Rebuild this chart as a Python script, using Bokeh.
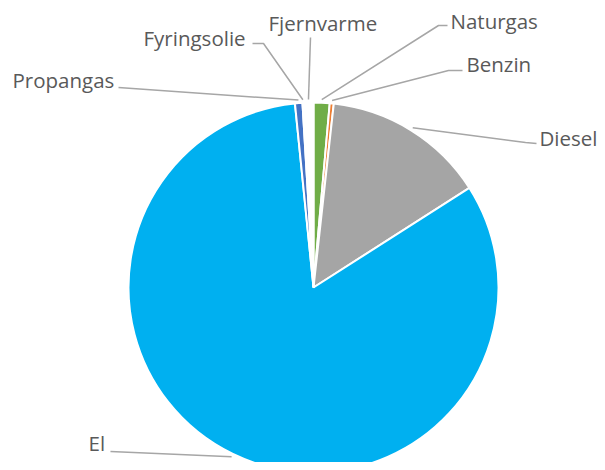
import math
from bokeh.plotting import figure
from bokeh.models import Range1d
from bokeh.embed import file_html
from bokeh.resources import INLINE
from bokeh.core.properties import value

# ---- data (share in %, order clockwise from 12 o'clock) ----
categories = ["Naturgas", "Benzin", "Diesel", "El", "Propangas", "Fyringsolie", "Fjernvarme"]
shares = [1.4, 0.35, 14.2, 82.45, 0.65, 0.1, 0.85]

# ---- style ----
colors = ["#70AD47", "#ED7D31", "#A5A5A5", "#00B0F0", "#4472C4", "#FFFFFF", "#FFFFFF"]
W, H = 597, 462
CX, CY, R = 313, -287, 185

# label layout: (text left x, text centre y, leader polyline from label side)
label_pos = {
    "Naturgas":    (450, 20,  [(447, 25), (438, 25)]),
    "Benzin":      (466, 63,  [(462, 70), (448, 70)]),
    "Diesel":      (539, 137, [(536, 143), (525, 142)]),
    "El":          (88, 442,  [(110, 451)]),
    "Propangas":   (12, 79,   [(118, 87)]),
    "Fyringsolie": (143, 37,  [(252, 43), (263, 43)]),
    "Fjernvarme":  (268, 22,  [(310, 37)]),
}

total = sum(shares)
starts, ends, mids = [], [], []
acc = 0.0
for s in shares:
    t0 = acc / total * 2 * math.pi
    acc += s
    t1 = acc / total * 2 * math.pi
    starts.append(math.pi / 2 - t1)
    ends.append(math.pi / 2 - t0)
    mids.append((t0 + t1) / 2)

p = figure(width=W, height=H, output_backend="svg", toolbar_location=None,
           x_range=Range1d(0, W), y_range=Range1d(-H, 0),
           min_border=0)
p.axis.visible = False
p.grid.visible = False
p.outline_line_color = None
p.background_fill_color = "white"
p.border_fill_color = "white"

p.wedge(x=CX, y=CY, radius=R, start_angle=starts, end_angle=ends,
        direction="anticlock", fill_color=colors, line_color="white", line_width=2)

xs, ys = [], []
tx, ty, tt = [], [], []
for cat, m in zip(categories, mids):
    lx, lyc, pts = label_pos[cat]
    ex = CX + (R + 3) * math.sin(m)
    ey = CY + (R + 3) * math.cos(m)
    xs.append([q[0] for q in pts] + [ex])
    ys.append([-q[1] for q in pts] + [ey])
    tx.append(lx)
    ty.append(-lyc)
    tt.append(cat)

p.multi_line(xs=xs, ys=ys, line_color="#A6A6A6", line_width=1.5)
p.text(x=tx, y=ty, text=tt, text_font=value("Open Sans"), text_font_size="20.5px",
       text_color="#595959", text_align="left", text_baseline="middle")

open("out.html", "w").write(file_html(p, INLINE))
